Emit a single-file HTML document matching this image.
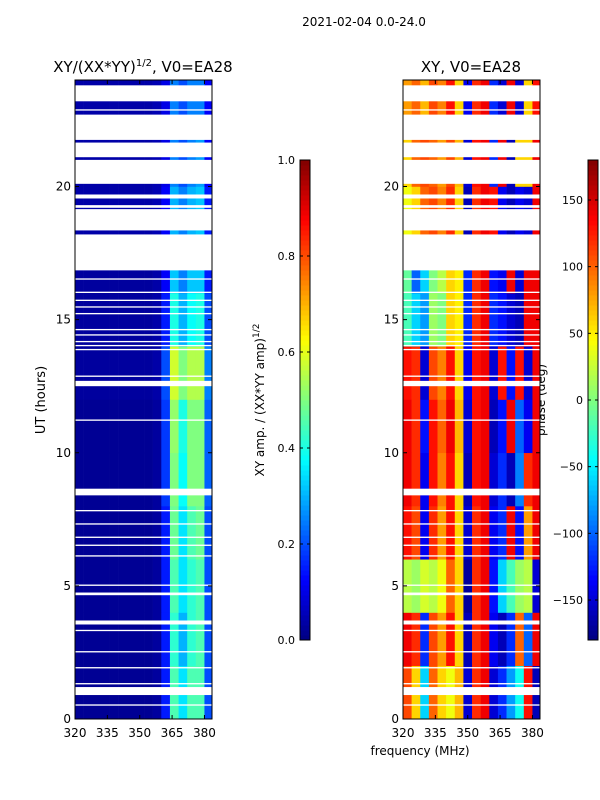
<!DOCTYPE html>
<html><head><meta charset="utf-8"><style>
html,body{margin:0;padding:0;background:#fff;}
svg{display:block;font-family:"DejaVu Sans","Liberation Sans",sans-serif;}
</style></head><body>
<svg id="fig" width="600" height="800" viewBox="0 0 600 800">
<text x="364" y="26" font-size="12" text-anchor="middle">2021-02-04 0.0-24.0</text>
<text x="143" y="72" font-size="15" text-anchor="middle">XY/(XX*YY)<tspan font-size="10" dy="-6">1/2</tspan><tspan dy="6">, V0=EA28</tspan></text>
<text x="471" y="72" font-size="15" text-anchor="middle">XY, V0=EA28</text>
<text transform="translate(45,400) rotate(-90)" font-size="13" text-anchor="middle">UT (hours)</text>
<text x="420" y="755" font-size="12" text-anchor="middle">frequency (MHz)</text>
<text transform="translate(264,400) rotate(-90)" font-size="12" text-anchor="middle">XY amp. / (XX*YY amp)<tspan font-size="9" dy="-5">1/2</tspan></text>
<text transform="translate(545,400) rotate(-90)" font-size="12" text-anchor="middle">phase (deg)</text>
<g id="left"></g>
<g id="right"></g>
<g id="cbars"></g>
</svg>
<script>
const freqEdges = [320,324,328,332,336,340,344,348,352,356,360,364,368,372,376,380,384];
const timeEdges = [0,2,4,6,8,10,12,14,16,18,20,22,24];
const ampRows = [
 [0.02,0.02,0.02,0.02,0.02,0.02,0.02,0.02,0.02,0.03,0.15,0.45,0.35,0.45,0.45,0.2],
 [0.02,0.02,0.02,0.02,0.02,0.02,0.02,0.02,0.02,0.03,0.15,0.42,0.3,0.42,0.45,0.2],
 [0.02,0.02,0.02,0.02,0.02,0.02,0.02,0.02,0.02,0.03,0.15,0.45,0.35,0.42,0.45,0.2],
 [0.02,0.02,0.02,0.02,0.02,0.02,0.02,0.02,0.02,0.03,0.15,0.48,0.35,0.45,0.48,0.2],
 [0.02,0.02,0.02,0.02,0.02,0.02,0.02,0.02,0.02,0.03,0.18,0.5,0.38,0.5,0.5,0.22],
 [0.02,0.02,0.02,0.02,0.02,0.02,0.02,0.02,0.02,0.03,0.18,0.52,0.4,0.5,0.5,0.22],
 [0.03,0.03,0.03,0.03,0.03,0.03,0.03,0.03,0.03,0.04,0.2,0.58,0.5,0.55,0.55,0.25],
 [0.03,0.03,0.03,0.03,0.03,0.03,0.03,0.03,0.03,0.04,0.15,0.4,0.3,0.38,0.4,0.2],
 [0.03,0.03,0.03,0.03,0.03,0.03,0.03,0.03,0.03,0.04,0.12,0.32,0.25,0.32,0.32,0.15],
 [0.04,0.04,0.04,0.04,0.04,0.04,0.04,0.04,0.04,0.05,0.12,0.3,0.25,0.3,0.32,0.15],
 [0.04,0.04,0.04,0.04,0.04,0.04,0.04,0.04,0.04,0.05,0.1,0.25,0.2,0.25,0.28,0.12],
 [0.04,0.04,0.04,0.04,0.04,0.04,0.04,0.04,0.04,0.05,0.1,0.25,0.2,0.25,0.25,0.12]
];
const phaseRows = [
 [110,60,-60,100,60,40,70,-150,120,140,-150,-120,-80,-40,130,-160],
 [140,120,-120,110,80,130,60,-160,120,140,-140,-160,-120,100,-100,140],
 [20,10,30,20,40,100,60,-170,120,140,-130,-60,-20,10,20,-150],
 [130,110,-140,120,80,130,60,-150,120,140,-140,-120,140,-130,80,140],
 [140,120,-140,130,90,130,60,-160,130,140,-150,-120,-160,-90,120,140],
 [140,120,-130,130,100,140,70,-150,130,140,-160,-130,140,-100,-140,140],
 [130,120,-150,110,90,130,60,-140,130,140,-150,130,-130,130,-150,140],
 [-20,-60,-80,10,0,60,50,-120,120,140,-120,-130,-150,-160,140,140],
 [-10,-100,-60,0,20,60,50,-120,120,140,-130,-140,140,-150,140,140],
 [40,60,100,110,90,120,60,-160,120,140,130,-140,-160,-140,-150,140],
 [60,100,110,100,80,110,70,-150,130,140,-120,140,-160,60,60,140],
 [80,100,70,110,90,130,60,-140,120,140,-120,-150,140,-150,60,130]
];
const flagged = [[23.2,23.8],[22.85,22.9],[21.75,22.7],[21.1,21.65],[20.1,21.0],[19.55,19.7],[19.2,19.3],[18.35,19.15],[16.85,18.2],[16.5,16.55],[16.0,16.05],[15.7,15.75],[15.45,15.5],[15.2,15.25],[14.6,14.65],[14.4,14.45],[14.15,14.2],[14.0,14.05],[13.85,13.9],[12.85,12.9],[12.5,12.7],[11.2,11.25],[8.4,8.65],[7.8,7.85],[7.3,7.35],[6.8,6.85],[6.5,6.55],[6.1,6.15],[5.0,5.05],[4.65,4.75],[3.55,3.7],[3.3,3.35],[2.5,2.55],[1.9,1.95],[1.3,1.35],[0.9,1.2],[0.5,0.55]];
const yTicks = [0,5,10,15,20];
const xTicks = [320,335,350,365,380];
const ampTicks = [0.0,0.2,0.4,0.6,0.8,1.0];
const phaseTicks = [-150,-100,-50,0,50,100,150];

const NS="http://www.w3.org/2000/svg";
function mk(tag,attrs,parent){const e=document.createElementNS(NS,tag);for(const k in attrs)e.setAttribute(k,attrs[k]);parent.appendChild(e);return e;}
function jet(v){v=Math.max(0,Math.min(1,v));
 const f=(x)=>Math.max(0,Math.min(1,x));
 const r=f(Math.min(4*v-1.5,-4*v+4.5)),g=f(Math.min(4*v-0.5,-4*v+3.5)),b=f(Math.min(4*v+0.5,-4*v+2.5));
 return `rgb(${Math.round(r*255)},${Math.round(g*255)},${Math.round(b*255)})`;}
const Y0=719,Y1=80;
const yScale=h=>Y0-(h/24)*(Y0-Y1);
function drawPanel(gid,x0,x1,rows,norm,lblX){
 const g=document.getElementById(gid);
 const xs=f=>x0+(f-320)/(383.5-320)*(x1-x0);
 for(let r=0;r<rows.length;r++){for(let c=0;c<rows[r].length;c++){
  const xa=xs(freqEdges[c]),xb=Math.min(x1,xs(freqEdges[c+1]));
  const ya=yScale(timeEdges[r+1]),yb=yScale(timeEdges[r]);
  const cell=mk('rect',{x:xa,y:ya,width:xb-xa+0.3,height:yb-ya+0.3,fill:jet(norm(rows[r][c]))},g);
  
  
 }}
 for(const fl of flagged){
  const band=mk('rect',{x:x0,y:yScale(fl[1]),width:x1-x0,height:yScale(fl[0])-yScale(fl[1]),fill:'#fff'},g);
  
  
 }
 mk('rect',{x:x0,y:Y1,width:x1-x0,height:Y0-Y1,fill:'none',stroke:'#000','stroke-width':1},g);
 for(const t of yTicks){const y=yScale(t);
  mk('line',{x1:x0,x2:x0+4,y1:y,y2:y,stroke:'#000'},g);mk('line',{x1:x1-4,x2:x1,y1:y,y2:y,stroke:'#000'},g);
  const tl=mk('text',{x:lblX,y:y+4,'font-size':12,'text-anchor':'end'},g);tl.textContent=t;
  
  }
 for(const t of xTicks){const x=xs(t);
  mk('line',{x1:x,x2:x,y1:Y0,y2:Y0-4,stroke:'#000'},g);mk('line',{x1:x,x2:x,y1:Y1,y2:Y1+4,stroke:'#000'},g);
  const tl=mk('text',{x:x,y:737,'font-size':12,'text-anchor':'middle'},g);tl.textContent=t;
  
  }
}
drawPanel('left',75,212,ampRows,v=>v,71);
drawPanel('right',403,540,phaseRows,v=>(v+180)/360,399);
function drawCbar(x,ticks,lo,hi,fmt){
 const g=document.getElementById('cbars');
 const top=160,bot=640,n=96;
 for(let i=0;i<n;i++){const y=bot-(i+1)*(bot-top)/n;
  mk('rect',{x:x,y:y,width:10,height:(bot-top)/n+0.5,fill:jet((i+0.5)/n)},g);}
 mk('rect',{x:x,y:top,width:10,height:bot-top,fill:'none',stroke:'#000'},g);
 for(const t of ticks){const y=bot-(t-lo)/(hi-lo)*(bot-top);
  mk('line',{x1:x,x2:x+3,y1:y,y2:y,stroke:'#000'},g);mk('line',{x1:x+7,x2:x+10,y1:y,y2:y,stroke:'#000'},g);
  const tl=mk('text',{x:x-5,y:y+4,'font-size':11,'text-anchor':'end'},g);tl.textContent=fmt(t);
  
  }
}
drawCbar(300,ampTicks,0,1,t=>t.toFixed(1));
drawCbar(588,phaseTicks,-180,180,t=>t<0?'\u2212'+(-t):String(t));
</script>
</body></html>
